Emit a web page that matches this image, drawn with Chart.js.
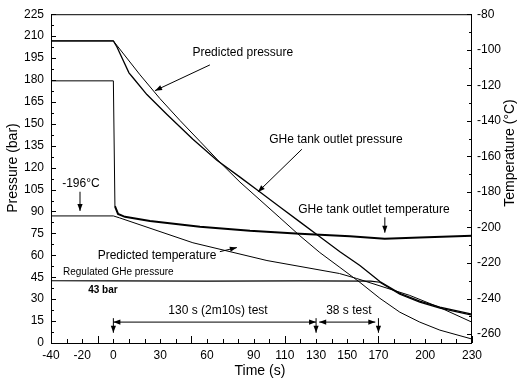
<!DOCTYPE html>
<html><head><meta charset="utf-8">
<script src="https://cdn.jsdelivr.net/npm/chart.js@4"></script>
<style>html,body{margin:0;padding:0;background:#fff;}canvas{display:block}</style>
</head><body>
<canvas id="c" width="517" height="382"></canvas>
<script>
// ---- tick labels ----
const xTickLabels = [-40,-20,0,30,60,90,110,130,150,170,200,230];
const leftTickLabels = [0,15,30,45,60,75,90,105,120,135,150,165,180,195,210,225];
const rightTickLabels = [-260,-240,-220,-200,-180,-160,-140,-120,-100,-80];

// ---- GHe tank outlet pressure (measured, bar) ----
const mpTime   = [-40,0,2.3,10,12.6,21.5,34.4,51,66.4,81.2,94,106.8,119.6,132.4,145.3,158.1,170.9,183.7,196.5,209.4,230];
const mpValues = [206.7,206.7,202.6,184.9,181.5,170,156.4,139.4,125.1,113.5,103.3,93.1,82.9,72.7,62.5,53,42.1,34,28.6,24.5,19.7];

// ---- Predicted pressure (bar) ----
const ppTime   = [-40,0,17.1,29.9,42.7,55.5,68.3,81.2,94,106.8,119.6,132.4,145.3,158.1,170.9,183.7,196.5,209.4,230];
const ppValues = [206.7,206.7,183.5,167.2,152.3,138,123.7,110.1,97.9,85.7,73.4,61.9,51.7,41.5,30.6,21.1,14.3,8.8,2.7];

// ---- Regulated GHe pressure (bar) ----
const rpTime   = [-40,0,60,120,165,170.9,183.7,196.5,209.4,230];
const rpValues = [42.6,42.5,42.4,42.5,42.4,41.6,33.4,28.0,23.9,19.1];

// ---- GHe tank outlet temperature (measured, °C) ----
const mtTime   = [-40,0,1,3,7.4,23.5,55.5,87.6,119.6,151.7,174,196.5,230];
const mtValues = [-117.5,-117.5,-188,-192.4,-194,-196.3,-199.6,-201.9,-203.5,-204.9,-206.3,-205.6,-204.6];

// ---- Predicted temperature (°C) ----
const ptTime   = [-40,0,4,51,98.5,145,156,190,209,230];
const ptValues = [-193.5,-193.5,-194.6,-208.6,-218.6,-225.9,-228.7,-238.2,-244.9,-253.3];

// ---- annotations (data coordinates: time s, pressure bar) ----
const noteTexts = [
  {text:'Predicted pressure', t:83, p:198.5, font:'12px "Liberation Sans", Arial'},
  {text:'GHe tank outlet pressure', t:142.7, p:139.4, font:'12px "Liberation Sans", Arial'},
  {text:'GHe tank outlet temperature', t:167.1, p:91.1, font:'12px "Liberation Sans", Arial'},
  {text:'Predicted temperature', t:28, p:59.8, font:'12px "Liberation Sans", Arial'},
  {text:'Regulated GHe pressure', t:-32.3, p:48.3, font:'10px "Liberation Sans", Arial', align:'left'},
  {text:'43 bar', t:-6.7, p:36.0, font:'bold 10px "Liberation Sans", Arial'},
  {text:'-196°C', t:-20.8, p:109, font:'12px "Liberation Sans", Arial'},
  {text:'130 s (2m10s) test', t:67.1, p:21.8, font:'12px "Liberation Sans", Arial'},
  {text:'38 s test', t:151, p:21.8, font:'12px "Liberation Sans", Arial'}
];
const noteArrows = [
  {from:[61.9,190.3], to:[26.7,172.7]},
  {from:[120.9,132.6], to:[92.7,103.3]},
  {from:[174.1,86], to:[174.1,75.5]},
  {from:[68.3,62.5], to:[79.2,65.3]},
  {from:[-21.4,103.5], to:[-21.4,90.4]},
  {from:[0,17], to:[0,7]},
  {from:[130,17], to:[130,7]},
  {from:[170,17], to:[170,7]}
];
const noteSpans = [
  {a:[0,14.3], b:[130,14.3]},
  {a:[132,14.3], b:[168,14.3]}
];

function pts(ts, vs){ return ts.map((t,i)=>({x:t,y:vs[i]})); }

const FONT = '"Liberation Sans", Arial, sans-serif';

function head(ctx, x1,y1,x2,y2){
  const ang = Math.atan2(y2-y1,x2-x1), L=7, W=2.6;
  ctx.beginPath();
  ctx.moveTo(x2,y2);
  ctx.lineTo(x2-L*Math.cos(ang)+W*Math.sin(ang), y2-L*Math.sin(ang)-W*Math.cos(ang));
  ctx.lineTo(x2-L*Math.cos(ang)-W*Math.sin(ang), y2-L*Math.sin(ang)+W*Math.cos(ang));
  ctx.closePath(); ctx.fill();
}

const decor = {
  id:'decor',
  afterDraw(chart){
    const ctx = chart.ctx, xs = chart.scales.x, ys = chart.scales.y, y2 = chart.scales.y2;
    const ca = chart.chartArea;
    ctx.save();
    ctx.strokeStyle='#000'; ctx.fillStyle='#000'; ctx.lineWidth=1;
    // frame
    ctx.strokeRect(ca.left+0.5, ca.top+0.5, ca.right-ca.left-1, ca.bottom-ca.top);
    // inward ticks
    ctx.beginPath();
    for(let t=-40;t<=230;t+=10){
      const x=Math.round(xs.getPixelForValue(t))+0.5, len=((t+10)%60===0)?7:4;
      ctx.moveTo(x,ca.bottom); ctx.lineTo(x,ca.bottom-len);
    }
    for(let p=0;p<=225;p+=7.5){
      const y=Math.round(ys.getPixelForValue(p))+0.5, len=(p%15===0)?5:3;
      ctx.moveTo(ca.left,y); ctx.lineTo(ca.left+len,y);
    }
    for(let T=-260;T<=-80;T+=10){
      const y=Math.round(y2.getPixelForValue(T))+0.5, len=(T%20===0)?5:3;
      ctx.moveTo(ca.right,y); ctx.lineTo(ca.right-len,y);
    }
    ctx.stroke();
    // annotation texts
    ctx.textBaseline='middle';
    noteTexts.forEach(n=>{
      ctx.font=n.font; ctx.textAlign=n.align||'center';
      ctx.fillText(n.text, xs.getPixelForValue(n.t), ys.getPixelForValue(n.p));
    });
    // arrows
    noteArrows.forEach(a=>{
      const x1=xs.getPixelForValue(a.from[0]), yy1=ys.getPixelForValue(a.from[1]);
      const x2=xs.getPixelForValue(a.to[0]), yy2=ys.getPixelForValue(a.to[1]);
      ctx.beginPath(); ctx.moveTo(x1,yy1); ctx.lineTo(x2,yy2); ctx.stroke();
      head(ctx,x1,yy1,x2,yy2);
    });
    noteSpans.forEach(s=>{
      const x1=xs.getPixelForValue(s.a[0]), yy1=ys.getPixelForValue(s.a[1]);
      const x2=xs.getPixelForValue(s.b[0]), yy2=ys.getPixelForValue(s.b[1]);
      ctx.beginPath(); ctx.moveTo(x1,yy1); ctx.lineTo(x2,yy2); ctx.stroke();
      head(ctx,x1,yy1,x2,yy2); head(ctx,x2,yy2,x1,yy1);
    });
    // axis titles
    ctx.font='14px '+FONT; ctx.textAlign='center'; ctx.textBaseline='middle';
    ctx.fillText('Time (s)', xs.getPixelForValue(94), 371);
    ctx.save(); ctx.translate(13,168); ctx.rotate(-Math.PI/2); ctx.fillText('Pressure (bar)',0,0); ctx.restore();
    ctx.save(); ctx.translate(510,153); ctx.rotate(-Math.PI/2); ctx.fillText('Temperature (°C)',0,0); ctx.restore();
    ctx.restore();
  }
};

const line = (label, data, axis, w, extra) => Object.assign({
  label, data, yAxisID:axis, borderColor:'#000', backgroundColor:'#000',
  borderWidth:w, pointRadius:0, tension:0, fill:false
}, extra||{});

new Chart(document.getElementById('c'), {
  type:'line',
  data:{datasets:[
    line('GHe tank outlet pressure', pts(mpTime,mpValues), 'y', 1.3),
    line('Predicted pressure', pts(ppTime,ppValues), 'y', 1),
    line('Regulated GHe pressure', pts(rpTime,rpValues), 'y', 1.2),
    line('GHe tank outlet temperature', pts(mtTime,mtValues), 'y2', 2,
      {segment:{borderWidth: c => c.p0DataIndex < 2 ? 1 : 2}}),
    line('Predicted temperature', pts(ptTime,ptValues), 'y2', 1)
  ]},
  options:{
    responsive:false, animation:false, devicePixelRatio:1,
    layout:{padding:{top:12,left:0,right:0,bottom:0}},
    plugins:{legend:{display:false}, tooltip:{enabled:false}},
    scales:{
      x:{type:'linear', position:'bottom', min:-40, max:230,
        afterBuildTicks: s => { s.ticks = xTickLabels.map(v=>({value:v})); },
        afterFit: s => { s.height = 39; },
        ticks:{color:'#000', font:{family:FONT,size:12}, padding:5, maxRotation:0, autoSkip:false},
        grid:{display:false, drawTicks:false}, border:{display:false}},
      y:{type:'linear', position:'left', min:0, max:225,
        afterBuildTicks: s => { s.ticks = leftTickLabels.map(v=>({value:v})); },
        afterFit: s => { s.width = 51; },
        ticks:{color:'#000', font:{family:FONT,size:12}, padding:7, autoSkip:false},
        grid:{display:false, drawTicks:false}, border:{display:false}},
      y2:{type:'linear', position:'right', min:-265, max:-80,
        afterBuildTicks: s => { s.ticks = rightTickLabels.map(v=>({value:v})); },
        afterFit: s => { s.width = 45; },
        ticks:{color:'#000', font:{family:FONT,size:12}, padding:5, autoSkip:false},
        grid:{display:false, drawTicks:false}, border:{display:false}}
    }
  },
  plugins:[decor]
});
</script>
</body></html>
